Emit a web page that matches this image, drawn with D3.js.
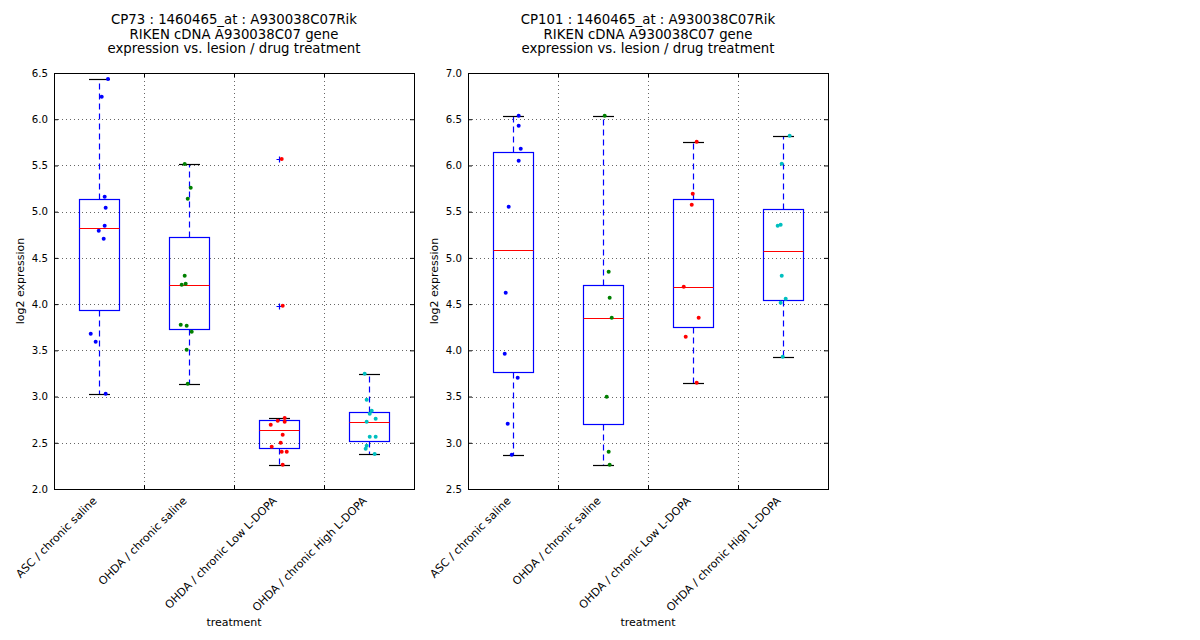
<!DOCTYPE html>
<html>
<head>
<meta charset="utf-8">
<script src="https://cdn.jsdelivr.net/npm/d3@7"></script>
<style>
  body { margin: 0; background: #fff; }
  text { font-family: "DejaVu Sans", sans-serif; fill: #000; }
</style>
</head>
<body>
<div id="chart"></div>
<script>
// Category labels (same for both panels)
const groups = ["ASC / chronic saline", "OHDA / chronic saline", "OHDA / chronic Low L-DOPA", "OHDA / chronic High L-DOPA"];
const groupColors = ["#0000ff", "#008000", "#ff0000", "#00bfbf"];

// CP73 panel: expression values per group and their jittered x position (category units)
const cp73Values = [
  [6.435, 6.244, 5.162, 5.043, 4.848, 4.794, 4.708, 3.680, 3.593, 3.031],
  [5.516, 5.259, 5.140, 4.308, 4.210, 4.221, 3.777, 3.767, 3.702, 3.507, 3.139],
  [5.570, 3.983, 2.768, 2.739, 2.728, 2.696, 2.587, 2.501, 2.458, 2.404, 2.404, 2.263],
  [3.247, 2.966, 2.847, 2.815, 2.761, 2.728, 2.566, 2.566, 2.468, 2.436, 2.379]
];
const cp73Jitter = [
  [1.100, 1.030, 1.063, 1.074, 1.063, 0.997, 1.052, 0.908, 0.963, 1.074],
  [1.952, 2.019, 1.986, 1.952, 1.919, 1.963, 1.908, 1.974, 2.030, 1.974, 1.986],
  [3.030, 3.041, 3.063, 2.986, 3.063, 2.908, 3.041, 3.019, 2.919, 3.030, 3.086, 3.041],
  [3.952, 3.974, 4.030, 4.008, 4.074, 3.974, 4.008, 4.074, 3.974, 3.963, 4.063]
];
const cp73Ticks = [2.0, 2.5, 3.0, 3.5, 4.0, 4.5, 5.0, 5.5, 6.0, 6.5];

// CP101 panel
const cp101Values = [
  [6.538, 6.430, 6.181, 6.052, 5.554, 4.624, 3.964, 3.704, 3.206, 2.871],
  [6.538, 4.851, 4.569, 4.353, 3.498, 2.903, 2.763],
  [6.257, 5.694, 5.575, 4.688, 4.353, 4.148, 3.650],
  [6.322, 6.019, 5.348, 5.359, 4.807, 4.559, 4.515, 3.931]
];
const cp101Jitter = [
  [1.063, 1.063, 1.086, 1.063, 0.952, 0.919, 0.908, 1.052, 0.941, 0.986],
  [2.019, 2.063, 2.074, 2.097, 2.041, 2.063, 2.074],
  [3.041, 2.997, 2.986, 2.897, 3.063, 2.919, 3.041],
  [4.074, 3.986, 3.941, 3.974, 3.986, 4.030, 3.974, 3.997]
];
const cp101Ticks = [2.5, 3.0, 3.5, 4.0, 4.5, 5.0, 5.5, 6.0, 6.5, 7.0];

const width = 1200, height = 640;
const lineW = 1.2;

const svg = d3.select("#chart")
  .append("svg")
  .attr("width", width)
  .attr("height", height);

svg.append("rect").attr("width", width).attr("height", height).attr("fill", "#fff");

// snap a coordinate to the middle of a pixel so 1px lines stay sharp
const px = v => Math.round(v) + 0.5;

function boxStats(vals) {
  const s = vals.slice().sort(d3.ascending);
  const q1 = d3.quantileSorted(s, 0.25);
  const med = d3.quantileSorted(s, 0.5);
  const q3 = d3.quantileSorted(s, 0.75);
  const iqr = q3 - q1;
  const inside = s.filter(v => v >= q1 - 1.5 * iqr && v <= q3 + 1.5 * iqr);
  return {
    q1, med, q3,
    lo: d3.min(inside), hi: d3.max(inside),
    fliers: s.filter(v => v < q1 - 1.5 * iqr || v > q3 + 1.5 * iqr)
  };
}

function drawPanel(left, titleLines, values, jitter, ticks) {
  const top = 73, bottom = 489, w = 360;
  const g = svg.append("g");

  const x = d3.scaleLinear().domain([0.5, 4.5]).range([left, left + w]);
  const y = d3.scaleLinear().domain([ticks[0], ticks[ticks.length - 1]]).range([bottom, top]);

  // grid
  const gridX = [1.5, 2.5, 3.5];
  g.selectAll(".gx").data(gridX).enter().append("line")
    .attr("x1", d => px(x(d))).attr("x2", d => px(x(d)))
    .attr("y1", top).attr("y2", bottom)
    .attr("stroke", "#666").attr("stroke-width", 1).attr("stroke-dasharray", "1,3");
  g.selectAll(".gy").data(ticks.slice(1, -1)).enter().append("line")
    .attr("x1", left).attr("x2", left + w)
    .attr("y1", d => px(y(d))).attr("y2", d => px(y(d)))
    .attr("stroke", "#666").attr("stroke-width", 1).attr("stroke-dasharray", "1,3");

  // axes (ticks inward, both sides)
  g.append("g").attr("transform", `translate(${left},0)`)
    .call(d3.axisLeft(y).tickValues(ticks).tickFormat(d3.format(".1f")).tickSizeInner(-4).tickSizeOuter(0).tickPadding(6))
    .call(a => a.select(".domain").remove())
    .call(a => a.selectAll("text").style("font-size", "10.2px").style("font-family", "DejaVu Sans"));
  g.append("g").attr("transform", `translate(${left + w},0)`)
    .call(d3.axisRight(y).tickValues(ticks).tickFormat("").tickSizeInner(-4).tickSizeOuter(0))
    .call(a => a.select(".domain").remove());
  g.append("g").attr("transform", `translate(0,${bottom})`)
    .call(d3.axisBottom(x).tickValues(gridX).tickFormat("").tickSizeInner(-4).tickSizeOuter(0))
    .call(a => a.select(".domain").remove());
  g.append("g").attr("transform", `translate(0,${top})`)
    .call(d3.axisTop(x).tickValues(gridX).tickFormat("").tickSizeInner(-4).tickSizeOuter(0))
    .call(a => a.select(".domain").remove());

  // boxes
  const boxW = 40, capW = 21;
  values.forEach((vals, i) => {
    const st = boxStats(vals);
    const cx = px(x(i + 1));
    g.append("line").attr("x1", cx).attr("x2", cx).attr("y1", px(y(st.q3))).attr("y2", px(y(st.hi)))
      .attr("stroke", "#0000ff").attr("stroke-width", lineW).attr("stroke-dasharray", "6,4");
    g.append("line").attr("x1", cx).attr("x2", cx).attr("y1", px(y(st.q1))).attr("y2", px(y(st.lo)))
      .attr("stroke", "#0000ff").attr("stroke-width", lineW).attr("stroke-dasharray", "6,4");
    [st.hi, st.lo].forEach(v => {
      g.append("line").attr("x1", cx - capW / 2).attr("x2", cx + capW / 2)
        .attr("y1", px(y(v))).attr("y2", px(y(v))).attr("stroke", "#000").attr("stroke-width", lineW);
    });
    g.append("rect").attr("x", cx - boxW / 2).attr("y", px(y(st.q3)))
      .attr("width", boxW).attr("height", px(y(st.q1)) - px(y(st.q3)))
      .attr("fill", "none").attr("stroke", "#0000ff").attr("stroke-width", lineW);
    g.append("line").attr("x1", cx - boxW / 2).attr("x2", cx + boxW / 2)
      .attr("y1", px(y(st.med))).attr("y2", px(y(st.med))).attr("stroke", "#ff0000").attr("stroke-width", 1.1);
    st.fliers.forEach(v => {
      const fy = px(y(v));
      g.append("path").attr("d", `M${cx - 3},${fy}H${cx + 3}M${cx},${fy - 3}V${fy + 3}`)
        .attr("stroke", "#0000ff").attr("stroke-width", lineW);
    });
  });

  // points
  values.forEach((vals, i) => {
    g.selectAll(null).data(vals.map((v, j) => ({ v, xj: jitter[i][j] }))).enter().append("circle")
      .attr("cx", d => x(d.xj)).attr("cy", d => y(d.v)).attr("r", 2)
      .attr("fill", groupColors[i]);
  });

  // frame
  g.append("rect").attr("x", left + 0.5).attr("y", top + 0.5).attr("width", w).attr("height", bottom - top)
    .attr("fill", "none").attr("stroke", "#000").attr("stroke-width", 1);

  // category labels
  groups.forEach((name, i) => {
    g.append("text")
      .attr("transform", `translate(${x(i + 1) - 7},${bottom + 7}) rotate(-45)`)
      .attr("text-anchor", "end")
      .attr("dy", "0.7em")
      .style("font-size", "11px")
      .text(name);
  });

  g.append("text").attr("x", left + w / 2).attr("y", 626)
    .attr("text-anchor", "middle").style("font-size", "11px").text("treatment");
  g.append("text")
    .attr("transform", `translate(${left - 30},${(top + bottom) / 2}) rotate(-90)`)
    .attr("text-anchor", "middle").style("font-size", "11px").text("log2 expression");

  titleLines.forEach((t, k) => {
    g.append("text").attr("x", left + w / 2).attr("y", 24 + k * 14.5)
      .attr("text-anchor", "middle").style("font-size", "13.3px").text(t);
  });
}

drawPanel(54, ["CP73 : 1460465_at : A930038C07Rik", "RIKEN cDNA A930038C07 gene", "expression vs. lesion / drug treatment"],
  cp73Values, cp73Jitter, cp73Ticks);
drawPanel(468, ["CP101 : 1460465_at : A930038C07Rik", "RIKEN cDNA A930038C07 gene", "expression vs. lesion / drug treatment"],
  cp101Values, cp101Jitter, cp101Ticks);
</script>
</body>
</html>
